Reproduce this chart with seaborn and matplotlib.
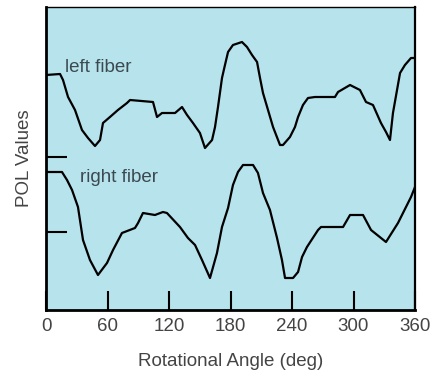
import matplotlib
matplotlib.use("Agg")
import matplotlib.pyplot as plt
import pandas as pd
import seaborn as sns

# angles (deg) and POL values (arbitrary units)
left_angle = [0, 13.7, 16.6, 21.5, 28.3, 35.1, 41.0, 47.8, 52.7, 55.6, 62.4, 70.2,
              79.0, 82.0, 104.4, 108.3, 113.2, 125.9, 132.7, 137.6, 143.4, 150.2,
              155.1, 162.0, 164.9, 167.8, 171.7, 174.6, 177.6, 182.4, 191.2, 196.1,
              201.0, 205.9, 208.8, 211.7, 216.6, 221.5, 228.3, 231.2, 238.0, 242.9,
              245.9, 250.7, 255.6, 262.4, 281.9, 284.9, 296.6, 306.3, 312.2, 319.0,
              326.8, 331.7, 335.6, 338.5, 345.4, 350.2, 356.1, 360]
left_pol = [235, 236, 230, 213, 200, 180, 172, 164, 170, 187, 193, 200,
            207, 210, 208, 193, 197, 197, 203, 195, 187, 177,
            162, 170, 183, 203, 232, 245, 258, 265, 268, 263,
            255, 248, 232, 217, 200, 183, 165, 165, 173, 183,
            193, 205, 212, 213, 213, 218, 225, 220, 208, 205,
            187, 178, 170, 197, 237, 245, 252, 252]

right_angle = [0, 15.6, 20.5, 25.4, 31.2, 36.1, 42.9, 50.7, 59.5, 65.4, 74.1, 86.8,
               89.8, 94.6, 106.3, 114.1, 118.0, 130.7, 138.5, 145.4, 152.2, 160.0,
               166.8, 171.7, 177.6, 182.4, 187.3, 192.2, 202.0, 206.8, 211.7, 218.5,
               225.4, 230.2, 233.2, 241.0, 245.9, 249.8, 254.6, 265.4, 268.3, 289.8,
               296.6, 309.3, 317.1, 331.7, 343.4, 356.1, 360]
right_pol = [138, 138, 130, 120, 103, 70, 50, 35, 47, 60, 77, 82,
             87, 97, 95, 98, 97, 83, 72, 65, 50, 32,
             57, 83, 102, 125, 138, 145, 145, 137, 117, 100,
             72, 50, 32, 32, 38, 53, 63, 80, 83, 83,
             95, 95, 80, 68, 87, 113, 123]

x_ticks = [0, 60, 120, 180, 240, 300, 360]
y_ticks = [78, 153]

df = pd.concat([
    pd.DataFrame({"angle": left_angle, "pol": left_pol, "fiber": "left fiber"}),
    pd.DataFrame({"angle": right_angle, "pol": right_pol, "fiber": "right fiber"}),
])

sns.set_style("ticks")
plt.rcParams["font.family"] = ["Liberation Sans", "DejaVu Sans"]

fig = plt.figure(figsize=(4.38, 3.71), dpi=100)
ax = fig.add_axes([46 / 438, 61 / 371, 369 / 438, 303 / 371])
ax.set_facecolor("#b6e3ec")

sns.lineplot(data=df, x="angle", y="pol", hue="fiber", units="fiber",
             estimator=None, sort=False, palette=["black", "black"],
             linewidth=1.6, legend=False, ax=ax)

ax.text(18.5, 242, "left fiber", fontsize=13.5, color="#3c4a50", va="center")
ax.text(33, 133, "right fiber", fontsize=13.5, color="#3c4a50", va="center")

ax.set_xlim(0, 360)
ax.set_ylim(0, 303)
ax.set_xticks(x_ticks)
ax.set_yticks(y_ticks)
ax.set_yticklabels([])
ax.tick_params(axis="x", direction="in", length=14, width=1.5, pad=6, color="black",
               labelsize=13.5, labelcolor="#444444")
ax.tick_params(axis="y", direction="in", length=15, width=1.5, color="black")

for side in ["left", "bottom"]:
    ax.spines[side].set_linewidth(2.0)
ax.spines["right"].set_linewidth(1.6)
ax.spines["top"].set_linewidth(1.0)
for side in ax.spines:
    ax.spines[side].set_color("black")

ax.set_xlabel("Rotational Angle (deg)", fontsize=13.5, color="#444444", labelpad=13)
ax.set_ylabel("POL Values", fontsize=13.5, color="#444444", labelpad=6)

fig.savefig("out.png", dpi=100)
